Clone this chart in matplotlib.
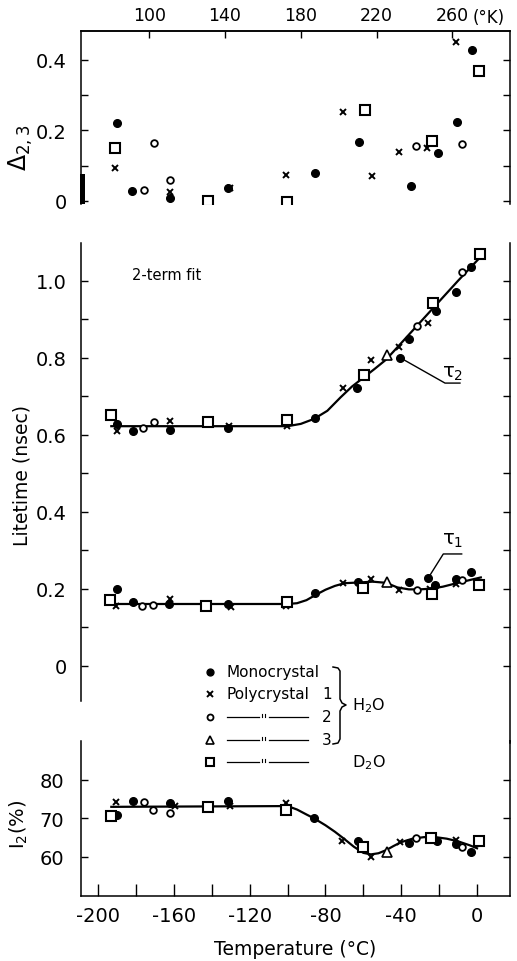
import matplotlib
matplotlib.use('Agg')
import matplotlib.pyplot as plt
from matplotlib.lines import Line2D
from matplotlib.patches import Rectangle

plt.rcParams['font.family'] = ['DejaVu Sans']
plt.rcParams['axes.unicode_minus'] = False
plt.rcParams['mathtext.default'] = 'regular'

# ---- data ----
# top panel: Delta_2,3
d_mono_t = [-190, -182, -162, -131.5, -85.5, -62.5, -35, -20.5, -10.5, -2.5]
d_mono = [0.220, 0.028, 0.007, 0.035, 0.079, 0.166, 0.041, 0.135, 0.222, 0.426]
d_poly_t = [-191, -162, -130.3, -100.8, -70.6, -55.6, -41, -26.6, -11.3]
d_poly = [0.092, 0.024, 0.035, 0.074, 0.251, 0.071, 0.137, 0.151, 0.449]
d_open_t = [-176, -170.3, -162, -32.2, -8.1]
d_open = [0.031, 0.164, 0.059, 0.156, 0.161]
d_sq_t = [-191, -141.8, -100.1, -59, -23.6, 1.2]
d_sq = [0.149, 0.0, -0.004, 0.257, 0.170, 0.369]

# middle panel: tau2
t2_mono_t = [-189.8, -181.7, -162, -131.6, -85.5, -63.5, -40.6, -35.7, -21.8, -11.2, -3.3]
t2_mono = [0.628, 0.609, 0.612, 0.617, 0.643, 0.720, 0.800, 0.849, 0.922, 0.970, 1.035]
t2_poly_t = [-190.2, -162, -130.7, -100.1, -70.6, -55.9, -41.2, -26.1]
t2_poly = [0.610, 0.636, 0.623, 0.622, 0.720, 0.794, 0.829, 0.890]
t2_open_t = [-176.1, -170.4, -31.9, -7.8]
t2_open = [0.617, 0.632, 0.883, 1.022]
t2_tri_t = [-47.7]
t2_tri = [0.807]
t2_sq_t = [-193.1, -141.8, -100.5, -59.6, -23.4, 1.6]
t2_sq = [0.652, 0.634, 0.639, 0.756, 0.942, 1.069]
t2_fit_t = [-193, -100, -93, -86, -79, -72, -66, -60, -54, -48, -40, -30, -20, -10, 1.5]
t2_fit = [0.622, 0.622, 0.628, 0.641, 0.662, 0.697, 0.725, 0.748, 0.771, 0.795,
          0.838, 0.892, 0.946, 1.000, 1.060]

# middle panel: tau1
t1_mono_t = [-190.2, -181.7, -162.4, -131.6, -85.5, -63, -35.7, -25.7, -22.2, -11.2, -3.2]
t1_mono = [0.199, 0.165, 0.160, 0.160, 0.188, 0.217, 0.217, 0.227, 0.210, 0.225, 0.243]
t1_poly_t = [-190.5, -162, -129.8, -100.8, -70.6, -55.9, -41, -24.8, -11.1]
t1_poly = [0.156, 0.173, 0.153, 0.156, 0.215, 0.225, 0.197, 0.199, 0.212]
t1_open_t = [-177, -170.8, -31.9, -7.8]
t1_open = [0.154, 0.158, 0.197, 0.223]
t1_tri_t = [-47.7]
t1_tri = [0.218]
t1_sq_t = [-193.7, -143.2, -100.5, -60.3, -23.9, 1.1]
t1_sq = [0.171, 0.154, 0.166, 0.201, 0.186, 0.210]
t1_fit_t = [-193, -100, -95, -90, -85, -80, -75, -70, -62, -55, -48, -42, -36, -30, -24, -18, -10, 2]
t1_fit = [0.160, 0.160, 0.162, 0.170, 0.184, 0.197, 0.207, 0.214, 0.216, 0.218, 0.215,
          0.203, 0.198, 0.198, 0.200, 0.205, 0.215, 0.229]

# bottom panel: I2 (%)
i2_mono_t = [-189.8, -181.4, -162, -131.6, -85.8, -63, -35.7, -21.3, -11.1, -3.2]
i2_mono = [70.9, 74.6, 73.9, 74.6, 70.0, 64.2, 63.5, 64.2, 63.3, 61.1]
i2_poly_t = [-190.5, -159.4, -130.3, -100.8, -71.4, -55.9, -40.6, -11.3]
i2_poly = [74.2, 73.1, 73.1, 74.0, 64.2, 59.8, 63.8, 64.4]
i2_open_t = [-175.7, -171.2, -162, -32.2, -8.1]
i2_open = [74.2, 72.2, 71.4, 64.8, 62.4]
i2_tri_t = [-47.7]
i2_tri = [61.1]
i2_sq_t = [-193.3, -141.8, -100.8, -60.3, -24.3, 1.1]
i2_sq = [70.5, 72.9, 72.2, 62.4, 64.9, 64.2]
i2_fit_t = [-193, -100, -95, -90, -86, -80, -75, -70, -65, -60, -56, -52, -48, -44,
            -40, -34, -28, -22, -16, -10, -4, 0]
i2_fit = [73.0, 73.2, 72.3, 71.0, 70.0, 68.2, 66.5, 64.6, 62.6, 61.0, 60.6, 60.9,
          61.7, 62.8, 63.8, 64.7, 65.1, 65.1, 64.7, 64.0, 63.0, 62.2]

kelvin_ticks = [100, 140, 180, 220, 260]
celsius_ticks = [-200, -160, -120, -80, -40, 0]
celsius_minor = [-180, -140, -100, -60, -20]

W, H = 517, 962


def fx(px):
    return px / W


def fy(py):
    return 1 - py / H


styles = {
    'mono': dict(marker='o', ls='none', color='k', ms=5.5),
    'poly': dict(marker='x', ls='none', color='k', ms=5, mew=1.4),
    'open': dict(marker='o', ls='none', mfc='white', mec='k', ms=4.8, mew=1.3),
    'tri': dict(marker='^', ls='none', mfc='white', mec='k', ms=7, mew=1.2),
    'sq': dict(marker='s', ls='none', mfc='white', mec='k', ms=6.8, mew=1.5),
}

fig = plt.figure(figsize=(W / 100, H / 100), dpi=100)
xl = (-209, 17.4)

ax1 = fig.add_axes([fx(81), fy(205), fx(510) - fx(81), fy(32) - fy(205)])
ax2 = fig.add_axes([fx(81), fy(742), fx(510) - fx(81), fy(244) - fy(742)])
ax3 = fig.add_axes([fx(81), fy(897), fx(510) - fx(81), fy(742) - fy(897)])

for ax in (ax1, ax2, ax3):
    ax.set_xlim(*xl)
    for s in ax.spines.values():
        s.set_linewidth(1.1)
    ax.tick_params(axis='y', which='both', direction='in', left=True, right=True,
                   length=5, width=1, labelsize=14, pad=10)

# ---- top panel ----
ax1.plot(d_mono_t, d_mono, **styles['mono'])
ax1.plot(d_poly_t, d_poly, **styles['poly'])
ax1.plot(d_open_t, d_open, **styles['open'])
ax1.plot(d_sq_t, d_sq, **styles['sq'])
ax1.set_ylim(-0.009, 0.481)
ax1.spines['bottom'].set_visible(False)
ax1.tick_params(axis='x', which='both', bottom=False, top=False, labelbottom=False)
ax1.set_yticks([0, 0.2, 0.4])
ax1.set_yticklabels(['0', '0.2', '0.4'])
ax1.set_yticks([0.1, 0.3], minor=True)
ax1.set_ylabel(r'$\Delta_{2,3}$', fontsize=17)
ax1.yaxis.set_label_coords(-0.108, 0.33)
sec = ax1.secondary_xaxis('top', functions=(lambda t: t + 273, lambda k: k - 273))
sec.set_xticks(kelvin_ticks)
sec.tick_params(direction='in', length=5, width=1, labelsize=12.5, pad=5)
sec.spines['top'].set_linewidth(1.1)
fig.text(fx(473), fy(18), '(°K)', fontsize=12, va='center', ha='left')
fig.add_artist(Rectangle((fx(80), fy(205)), 5 / W, 30 / H, transform=fig.transFigure,
                         color='k', lw=0))

# ---- middle panel ----
ax2.plot(t2_fit_t, t2_fit, color='k', lw=1.6, zorder=2)
ax2.plot(t1_fit_t, t1_fit, color='k', lw=1.6, zorder=2)
for key, tt, vv in [('mono', t2_mono_t, t2_mono), ('poly', t2_poly_t, t2_poly),
                    ('open', t2_open_t, t2_open), ('tri', t2_tri_t, t2_tri),
                    ('sq', t2_sq_t, t2_sq),
                    ('mono', t1_mono_t, t1_mono), ('poly', t1_poly_t, t1_poly),
                    ('open', t1_open_t, t1_open), ('tri', t1_tri_t, t1_tri),
                    ('sq', t1_sq_t, t1_sq)]:
    ax2.plot(tt, vv, zorder=3, **styles[key])
ax2.set_ylim(-0.196, 1.098)
ax2.spines['top'].set_visible(False)
ax2.spines['bottom'].set_visible(False)
ax2.spines['left'].set_bounds(-0.092, 1.098)
ax2.tick_params(axis='x', which='both', bottom=False, top=False, labelbottom=False)
ax2.set_yticks([0, 0.2, 0.4, 0.6, 0.8, 1.0])
ax2.set_yticklabels(['0', '0.2', '0.4', '0.6', '0.8', '1.0'])
ax2.set_yticks([0.1, 0.3, 0.5, 0.7, 0.9], minor=True)
ax2.set_ylabel('Litetime (nsec)', fontsize=13.5)
ax2.yaxis.set_label_coords(-0.115, 0.535)
ax2.text(-182.3, 1.017, '2-term fit', fontsize=10.5, va='center', ha='left')
ax2.plot([-40.6, -16.9, -9], [0.80, 0.734, 0.734], color='k', lw=1)
ax2.text(-13, 0.762, r'$\tau_2$', fontsize=14, ha='center', va='center')
ax2.plot([-26.6, -17.8, -8.1], [0.221, 0.29, 0.29], color='k', lw=1)
ax2.text(-13, 0.327, r'$\tau_1$', fontsize=14, ha='center', va='center')

# ---- bottom panel ----
ax3.plot(i2_fit_t, i2_fit, color='k', lw=1.6, zorder=2)
for key, tt, vv in [('mono', i2_mono_t, i2_mono), ('poly', i2_poly_t, i2_poly),
                    ('open', i2_open_t, i2_open), ('tri', i2_tri_t, i2_tri),
                    ('sq', i2_sq_t, i2_sq)]:
    ax3.plot(tt, vv, zorder=3, **styles[key])
ax3.set_ylim(49.75, 90.17)
ax3.spines['top'].set_visible(False)
ax3.set_yticks([60, 70, 80])
ax3.tick_params(axis='y', pad=12)
ax3.set_xticks(celsius_ticks)
ax3.set_xticks(celsius_minor, minor=True)
ax3.tick_params(axis='x', which='both', direction='in', length=9, width=1,
                labelsize=14, pad=7)
ax3.set_ylabel(r'I$_2$(%)', fontsize=14)
ax3.yaxis.set_label_coords(-0.118, 0.47)
ax3.set_xlabel('Temperature (°C)', fontsize=13.5, labelpad=10)

# right spine is continuous in the original
fig.add_artist(Line2D([fx(510), fx(510)], [fy(742), fy(744)], color='k', lw=1.1))

# ---- legend (drawn by hand) ----
rows = [673, 695, 718, 741, 763]
keys = ['mono', 'poly', 'open', 'tri', 'sq']
for key, r in zip(keys, rows):
    st = dict(styles[key])
    st['ms'] = st['ms'] * 0.9
    fig.add_artist(Line2D([fx(210)], [fy(r)], transform=fig.transFigure, **st))
fig.text(fx(226), fy(673), 'Monocrystal', fontsize=11, va='center')
fig.text(fx(226), fy(695), 'Polycrystal', fontsize=11, va='center')
for num, r in zip(['1', '2', '3'], rows[1:4]):
    fig.text(fx(327), fy(r), num, fontsize=11, va='center', ha='center')
for r in rows[2:]:
    fig.add_artist(Line2D([fx(227), fx(259)], [fy(r), fy(r)], color='k', lw=0.9))
    fig.add_artist(Line2D([fx(269), fx(308)], [fy(r), fy(r)], color='k', lw=0.9))
    for xx in (262, 265):
        fig.add_artist(Line2D([fx(xx), fx(xx)], [fy(r - 3), fy(r)], color='k', lw=0.8))
brace_x = [333, 338, 340, 340, 342, 346, 342, 340, 340, 338, 333]
brace_y = [668, 669, 672, 700, 704, 706, 708, 712, 740, 744, 745]
fig.add_artist(Line2D([fx(v) for v in brace_x], [fy(v) for v in brace_y],
                      color='k', lw=1.1))
fig.text(fx(352), fy(706), r'H$_2$O', fontsize=11.5, va='center')
fig.text(fx(352), fy(763), r'D$_2$O', fontsize=11.5, va='center')

fig.savefig('out.png', dpi=100)
